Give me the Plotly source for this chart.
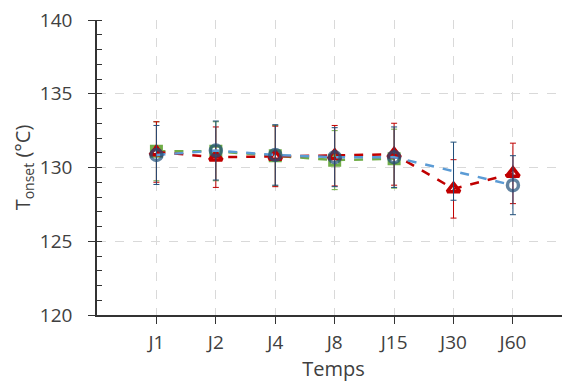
import plotly.graph_objects as go

categories = ["J1", "J2", "J4", "J8", "J15", "J30", "J60"]

green_vals = [131.1, 131.1, 130.8, 130.5, 130.6, None, None]
green_err = [2.0, 2.0, 2.05, 2.0, 2.0, None, None]

red_vals = [131.05, 130.7, 130.75, 130.8, 130.9, 128.55, 129.6]
red_err = [2.05, 2.05, 2.05, 2.05, 2.1, 1.98, 2.05]

blue_vals = [130.85, 131.15, 130.85, 130.7, 130.7, 129.75, 128.8]
blue_err = [2.0, 2.0, 2.05, 2.0, 2.05, 1.97, 2.0]
blue_marker_size = [11, 11, 11, 11, 11, 0, 11]

GREEN = "#70AD47"
RED = "#C00000"
LBLUE = "#5B9BD5"
DBLUE = "#1F4E79"
FONT = "Open Sans"
TXT = "#404040"

fig = go.Figure()

fig.add_trace(go.Scatter(
    x=categories, y=green_vals, mode="lines+markers",
    line=dict(color=GREEN, width=2.5, dash="dash"),
    marker=dict(symbol="square-open", size=10, color=GREEN, line=dict(width=3, color=GREEN)),
    error_y=dict(type="data", array=green_err, color=GREEN, thickness=1, width=3),
    connectgaps=False, showlegend=False))

fig.add_trace(go.Scatter(
    x=categories, y=red_vals, mode="lines+markers",
    line=dict(color=RED, width=2.5, dash="dash"),
    marker=dict(symbol="triangle-up-open", size=11, color=RED, line=dict(width=3.5, color=RED)),
    error_y=dict(type="data", array=red_err, color=RED, thickness=1, width=3),
    showlegend=False))

fig.add_trace(go.Scatter(
    x=categories, y=blue_vals, mode="lines+markers",
    line=dict(color=LBLUE, width=2.5, dash="dash"),
    marker=dict(symbol="circle-open", size=blue_marker_size, color=DBLUE, line=dict(width=3.5, color=DBLUE)),
    error_y=dict(type="data", array=blue_err, color=DBLUE, thickness=1, width=3),
    showlegend=False))

fig.update_layout(
    width=562, height=378,
    margin=dict(l=89, r=0, t=12, b=71),
    plot_bgcolor="white", paper_bgcolor="white",
    font=dict(family=FONT, color=TXT, size=19),
    xaxis=dict(
        type="category", range=[-1, 6.96], automargin=False,
        showline=True, linecolor="#333333", linewidth=2,
        ticks="outside", ticklen=7, tickcolor="#333333", tickwidth=1,
        ticklabelstandoff=2, ticklabeloverflow="allow",
        showgrid=True, gridcolor="#d9d9d9", griddash="dash", gridwidth=1,
        title=dict(text="Temps", font=dict(size=20, color=TXT), standoff=4),
        tickfont=dict(size=19, color=TXT), zeroline=False,
    ),
    yaxis=dict(
        range=[120, 140], dtick=5, automargin=False,
        showline=True, linecolor="#333333", linewidth=1.5,
        ticks="outside", ticklen=7, tickcolor="#333333", tickwidth=1,
        ticklabelstandoff=12, ticklabeloverflow="allow",
        minor=dict(dtick=1, ticks="inside", ticklen=5, tickcolor="#333333", showgrid=False),
        showgrid=True, gridcolor="#d9d9d9", griddash="dash", gridwidth=1,
        title=dict(text="T<sub>onset</sub> (°C)", font=dict(size=20, color=TXT), standoff=4),
        tickfont=dict(size=19, color=TXT), zeroline=False,
    ),
)

fig.write_html("out.html")
